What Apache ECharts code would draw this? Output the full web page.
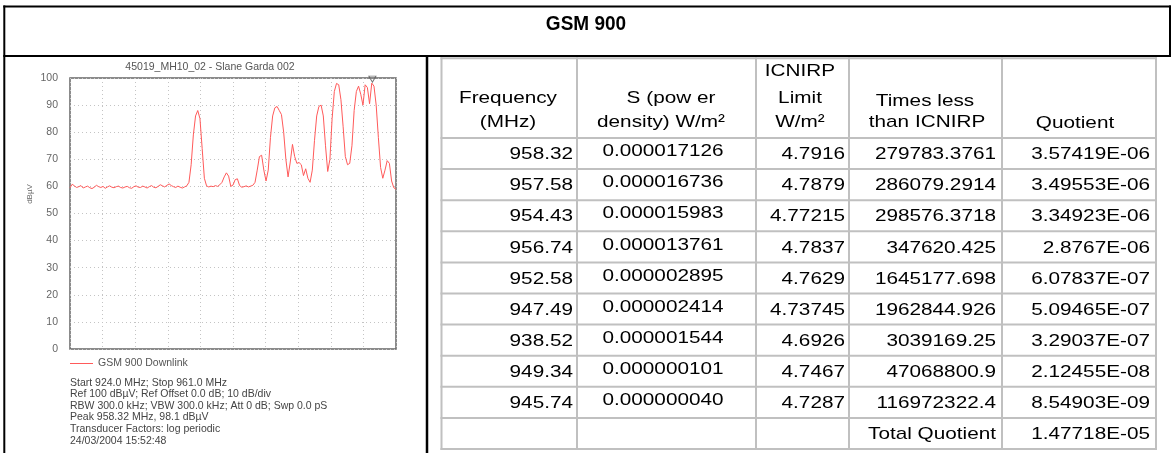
<!DOCTYPE html>
<html>
<head>
<meta charset="utf-8">
<script src="https://cdn.jsdelivr.net/npm/echarts@6/dist/echarts.min.js"></script>
<style>
  html, body { margin: 0; padding: 0; background: #ffffff; }
  #chart { width: 1171px; height: 453px; }
</style>
</head>
<body>
<div id="chart"></div>
<script>
// ---------------- DATA ----------------
const pageTitle = 'GSM 900';
const plotTitle = '45019_MH10_02 - Slane Garda 002';
const seriesName = 'GSM 900 Downlink';
const yAxisName = 'dBµV';
const freqStart = 924.0;   // MHz (sweep start)
const freqStop = 961.0;    // MHz (sweep stop)
const freqStep = 0.25;     // MHz between trace samples
const yTicks = [0, 10, 20, 30, 40, 50, 60, 70, 80, 90, 100];
const peakFreq = 958.32;
const peakLevel = 98.1;
// trace levels (dBµV), one per sweep sample
const levels = [
  59.5, 60.8, 60.2, 59.6, 59.9, 60.3, 59.4, 59.8, 60.1, 59.5,
  59.2, 59.7, 60.4, 59.9, 59.6, 60.0, 59.3, 59.8, 60.2, 59.7,
  59.5, 59.9, 60.1, 59.6, 59.4, 59.8, 60.0, 59.5, 59.3, 59.9,
  60.2, 59.7, 59.6, 60.1, 59.8, 59.4, 59.9, 60.3, 59.7, 59.5,
  60.0, 60.6, 60.2, 59.8, 60.4, 60.9, 60.3, 59.9, 59.6, 60.1,
  59.7, 59.4, 59.8, 60.2,
  61.5, 68, 79, 86, 88, 85, 74, 63,
  60.2, 59.8, 60.1, 59.9, 60.3, 60.0, 60.6, 61.5,
  63.5, 65, 63.8,
  60.0, 60.5, 62.5, 62.8, 60.3,
  59.7, 59.9, 60.2, 59.8, 60.1,
  60.4, 61.5, 66, 71, 71.5, 66, 62,
  66, 78, 86, 89, 89.5, 88, 86.5, 80, 70, 63.5,
  69, 75.5, 71, 68.5, 68.8, 68, 64, 66.5, 63, 61.5,
  66, 77, 86, 89.5, 90, 86, 75, 65.5,
  70, 85, 95, 98, 97.5, 92, 82, 71, 68, 68.5,
  75, 88, 95, 97, 94, 90,
  97.5, 96.5, 90.5, 98.1, 97, 90, 78, 67, 63, 66, 69.5, 68.5, 62, 59.5, 59
];
const infoLines = [
  'Start 924.0 MHz; Stop 961.0 MHz',
  'Ref 100 dBµV; Ref Offset 0.0 dB; 10 dB/div',
  'RBW 300.0 kHz; VBW 300.0 kHz; Att 0 dB; Swp 0.0 pS',
  'Peak 958.32 MHz, 98.1 dBµV',
  'Transducer Factors: log periodic',
  '24/03/2004 15:52:48'
];
// table
const headFreq = ['Frequency', '(MHz)'];
const headS = ['S (pow er', 'density) W/m²'];
const headLimit = ['ICNIRP', 'Limit', 'W/m²'];
const headTimes = ['Times less', 'than ICNIRP'];
const headQuot = ['Quotient'];
const colFreq = ['958.32','957.58','954.43','956.74','952.58','947.49','938.52','949.34','945.74'];
const colS = ['0.000017126','0.000016736','0.000015983','0.000013761','0.000002895','0.000002414','0.000001544','0.000000101','0.000000040'];
const colLimit = ['4.7916','4.7879','4.77215','4.7837','4.7629','4.73745','4.6926','4.7467','4.7287'];
const colTimes = ['279783.3761','286079.2914','298576.3718','347620.425','1645177.698','1962844.926','3039169.25','47068800.9','116972322.4'];
const colQuot = ['3.57419E-06','3.49553E-06','3.34923E-06','2.8767E-06','6.07837E-07','5.09465E-07','3.29037E-07','2.12455E-08','8.54903E-09'];
const totalLabel = 'Total Quotient';
const totalValue = '1.47718E-05';

// ---------------- LAYOUT ----------------
const FONT = '"Liberation Sans", Arial, Helvetica, sans-serif';
const plot = { left: 70, top: 78, width: 326, height: 271 };
const tbl = { cols: [441.5, 577, 756, 849, 1002, 1156], top: 58.3, headBottom: 138, rowH: 31.1, rows: 10 };
const TSX = 1.22;       // horizontal stretch of table text
const TFS = 17;         // table font size

const g = [];
function line(x1, y1, x2, y2, color, w) {
  g.push({ type: 'line', silent: true, shape: { x1, y1, x2, y2 }, style: { stroke: color, lineWidth: w } });
}
function txt(text, x, y, opt) {
  opt = opt || {};
  g.push({
    type: 'text', silent: true, x, y,
    scaleX: opt.sx || 1,
    rotation: opt.rot || 0,
    style: {
      text,
      fill: opt.color || '#000',
      fontSize: opt.size || TFS,
      fontWeight: opt.weight || 'normal',
      fontFamily: FONT,
      align: opt.align || 'center',
      verticalAlign: opt.va || 'middle',
      lineHeight: opt.lh
    }
  });
}

// outer black frame pieces
line(3.3, 6.5, 1171, 6.5, '#000', 2);
line(4.3, 5.5, 4.3, 453, '#000', 2);
line(1170, 5.5, 1170, 57, '#000', 2);
line(3.3, 56, 1171, 56, '#000', 2);
line(427, 56, 427, 453, '#000', 2.5);

// page title
txt(pageTitle, 586, 24, { size: 20, weight: 'bold', sx: 0.95 });

// plot decorations
txt(plotTitle, 210, 67, { size: 10.5, color: '#555' });
txt(yAxisName, 30, 194, { size: 8, color: '#666', rot: Math.PI / 2 });
txt(infoLines.join('\n'), 70, 377, { size: 10.5, color: '#444', align: 'left', va: 'top', lh: 11.6 });

// table grid
const tBottom = tbl.headBottom + tbl.rowH * tbl.rows;
for (const cx of tbl.cols) line(cx, tbl.top - 1, cx, tBottom + 1, '#c0c0c0', 2);
line(tbl.cols[0] - 1, tbl.top, tbl.cols[5] + 1, tbl.top, '#c0c0c0', 2);
for (let k = 0; k <= tbl.rows; k++) {
  const y = tbl.headBottom + k * tbl.rowH;
  line(tbl.cols[0] - 1, y, tbl.cols[5] + 1, y, '#c0c0c0', 2);
}

// header text
const hy = [71, 98, 122];
txt(headFreq[0], 508, hy[1], { sx: TSX });
txt(headFreq[1], 508, hy[2], { sx: TSX });
txt(headS[0], 671, hy[1], { sx: TSX });
txt(headS[1], 661, hy[2], { sx: TSX });
txt(headLimit[0], 800, hy[0], { sx: TSX });
txt(headLimit[1], 800, hy[1], { sx: TSX });
txt(headLimit[2], 800, hy[2], { sx: TSX });
txt(headTimes[0], 925, hy[1] + 3, { sx: TSX });
txt(headTimes[1], 927, hy[2], { sx: TSX });
txt(headQuot[0], 1075, hy[2] + 1, { sx: TSX });

// body rows
for (let k = 0; k < colFreq.length; k++) {
  const cy = tbl.headBottom + k * tbl.rowH + tbl.rowH / 2 + 1;
  txt(colFreq[k], 573, cy, { sx: TSX, align: 'right' });
  txt(colS[k], 663, cy - 3, { sx: TSX });
  txt(colLimit[k], 845, cy, { sx: TSX, align: 'right' });
  txt(colTimes[k], 996, cy, { sx: TSX, align: 'right' });
  txt(colQuot[k], 1150, cy, { sx: TSX, align: 'right' });
}
{
  const cy = tbl.headBottom + 9 * tbl.rowH + tbl.rowH / 2 + 1;
  txt(totalLabel, 996, cy, { sx: TSX, align: 'right' });
  txt(totalValue, 1150, cy, { sx: TSX, align: 'right' });
}

// ---------------- CHART ----------------
const traceData = levels.map((v, i) => [freqStart + i * freqStep, v]);
const dotted = { type: [1, 3], color: '#c4c4c4', width: 1 };

const chart = echarts.init(document.getElementById('chart'), null, { renderer: 'canvas' });
chart.setOption({
  animation: false,
  backgroundColor: '#ffffff',
  grid: Object.assign({ show: true, borderColor: '#666', borderWidth: 1.5, backgroundColor: 'transparent' }, plot),
  legend: {
    data: [{ name: seriesName, icon: 'rect' }],
    left: 70, top: 358, padding: 0,
    itemWidth: 23, itemHeight: 1, itemGap: 0,
    textStyle: { color: '#555', fontSize: 10.5, fontFamily: FONT },
    selectedMode: false
  },
  xAxis: [
    { type: 'value', min: freqStart, max: freqStop, show: false },
    { type: 'value', min: 0, max: 10, interval: 1, position: 'bottom',
      axisLine: { show: false }, axisTick: { show: false }, axisLabel: { show: false },
      splitLine: { show: true, lineStyle: dotted } }
  ],
  yAxis: {
    type: 'value', min: yTicks[0], max: yTicks[yTicks.length - 1], interval: 10,
    axisLine: { show: false }, axisTick: { show: false },
    axisLabel: { color: '#666', fontSize: 10.5, fontFamily: FONT, margin: 12, padding: [5, 0, 0, 0] },
    splitLine: { show: true, lineStyle: dotted }
  },
  series: [
    { name: seriesName, type: 'line', xAxisIndex: 0, data: traceData, showSymbol: false, symbol: 'none',
      lineStyle: { color: '#ff5a5a', width: 1 }, itemStyle: { color: '#ff5a5a' }, silent: true, z: 3 },
    { name: 'peak', type: 'scatter', xAxisIndex: 0, data: [[peakFreq, peakLevel]], clip: false,
      symbol: 'triangle', symbolRotate: 180, symbolSize: [7, 6], symbolOffset: [0, -4],
      itemStyle: { color: 'rgba(0,0,0,0)', borderColor: '#555', borderWidth: 1 }, silent: true, z: 4 }
  ],
  graphic: { elements: g }
});
</script>
</body>
</html>
